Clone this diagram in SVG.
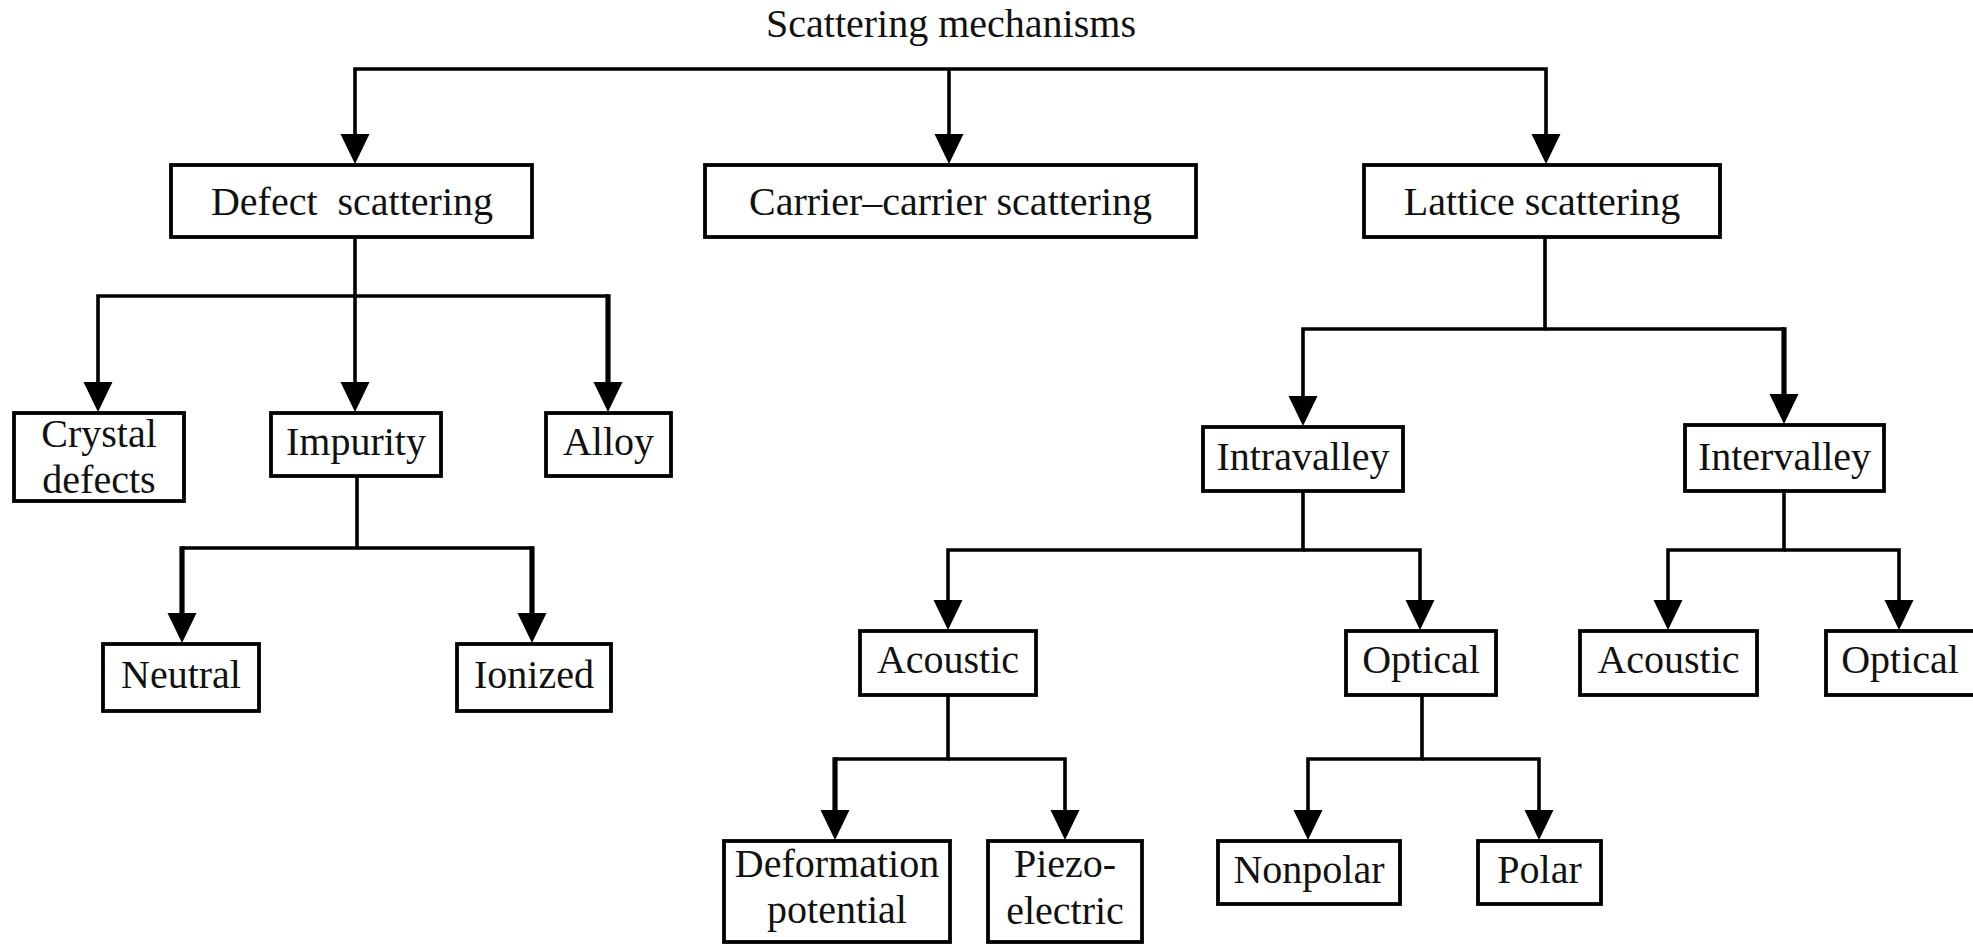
<svg xmlns="http://www.w3.org/2000/svg" width="1973" height="951" viewBox="0 0 1973 951">
<style>
  .box { fill: #fff; stroke: #000; stroke-width: 3.8; }
  .t { font-family: "Liberation Serif", "Times New Roman", serif; font-size: 40px; fill: #111; text-anchor: middle; }
  .c { fill: none; stroke: #000; stroke-width: 3.6; stroke-linejoin: miter; }
  .ct { fill: none; stroke: #000; stroke-width: 5.2; }
</style>
<defs>
  <marker id="ah" markerUnits="userSpaceOnUse" markerWidth="30" markerHeight="30" refX="0" refY="14.5" orient="auto" viewBox="0 0 30 29">
    <path d="M0,0 L30,14.5 L0,29 z" fill="#000"/>
  </marker>
</defs>
<rect width="1973" height="951" fill="#fff"/>

<g id="connectors">
  <path class="c" d="M949,69 H355 V134" marker-end="url(#ah)"/>
  <path class="c" d="M949,69 V134" marker-end="url(#ah)"/>
  <path class="c" d="M949,69 H1546 V134" marker-end="url(#ah)"/>

  <path class="c" d="M355,238 V296 H98 V382" marker-end="url(#ah)"/>
  <path class="c" d="M355,296 V382" marker-end="url(#ah)"/>
  <path class="c" d="M355,296 H608"/>
  <path class="ct" d="M608,294.2 V382" marker-end="url(#ah)"/>

  <path class="c" d="M357,477 V548 H182"/>
  <path class="c" d="M357,548 H532"/>
  <path class="ct" d="M182,546.2 V613" marker-end="url(#ah)"/>
  <path class="ct" d="M532,546.2 V613" marker-end="url(#ah)"/>

  <path class="c" d="M1545,238 V329 H1303 V396" marker-end="url(#ah)"/>
  <path class="c" d="M1545,329 H1784"/>
  <path class="ct" d="M1784,327.2 V394" marker-end="url(#ah)"/>

  <path class="c" d="M1303,492 V550 H948 V600" marker-end="url(#ah)"/>
  <path class="c" d="M1303,550 H1420 V600" marker-end="url(#ah)"/>

  <path class="c" d="M1784,492 V550 H1668 V600" marker-end="url(#ah)"/>
  <path class="c" d="M1784,550 H1899 V600" marker-end="url(#ah)"/>

  <path class="c" d="M948,696 V759 H835"/>
  <path class="ct" d="M835,757.2 V810" marker-end="url(#ah)"/>
  <path class="c" d="M948,759 H1065 V810" marker-end="url(#ah)"/>

  <path class="c" d="M1422,696 V759 H1308 V810" marker-end="url(#ah)"/>
  <path class="c" d="M1422,759 H1539 V810" marker-end="url(#ah)"/>
</g>

<g id="title"><text class="t" x="951" y="37">Scattering mechanisms</text></g>

<g id="defect"><rect class="box" x="171" y="165" width="361" height="72"/><text class="t" x="352" y="215" xml:space="preserve">Defect  scattering</text></g>
<g id="carrier"><rect class="box" x="705" y="165" width="491" height="72"/><text class="t" x="950.5" y="215">Carrier–carrier scattering</text></g>
<g id="lattice"><rect class="box" x="1364" y="165" width="356" height="72"/><text class="t" x="1542" y="215">Lattice scattering</text></g>

<g id="crystal"><rect class="box" x="14" y="413" width="170" height="88"/><text class="t" x="99" y="447">Crystal</text><text class="t" x="99" y="493">defects</text></g>
<g id="impurity"><rect class="box" x="271" y="413" width="170" height="63"/><text class="t" x="356" y="455">Impurity</text></g>
<g id="alloy"><rect class="box" x="546" y="413" width="125" height="63"/><text class="t" x="608.5" y="455">Alloy</text></g>

<g id="neutral"><rect class="box" x="103" y="644" width="156" height="67"/><text class="t" x="181" y="688">Neutral</text></g>
<g id="ionized"><rect class="box" x="457" y="644" width="154" height="67"/><text class="t" x="534" y="688">Ionized</text></g>

<g id="intravalley"><rect class="box" x="1203" y="427" width="200" height="64"/><text class="t" x="1303" y="470">Intravalley</text></g>
<g id="intervalley"><rect class="box" x="1685" y="425" width="199" height="66"/><text class="t" x="1784.5" y="470">Intervalley</text></g>

<g id="acoustic-intra"><rect class="box" x="860" y="631" width="176" height="64"/><text class="t" x="948" y="673">Acoustic</text></g>
<g id="optical-intra"><rect class="box" x="1346" y="631" width="150" height="64"/><text class="t" x="1421" y="673">Optical</text></g>
<g id="acoustic-inter"><rect class="box" x="1580" y="631" width="177" height="64"/><text class="t" x="1668.5" y="673">Acoustic</text></g>
<g id="optical-inter"><rect class="box" x="1826" y="631" width="150" height="64"/><text class="t" x="1900" y="673">Optical</text></g>

<g id="deformation"><rect class="box" x="724" y="841" width="226" height="101"/><text class="t" x="837" y="877">Deformation</text><text class="t" x="837" y="923">potential</text></g>
<g id="piezo"><rect class="box" x="988" y="841" width="154" height="101"/><text class="t" x="1065" y="877">Piezo-</text><text class="t" x="1065" y="924">electric</text></g>
<g id="nonpolar"><rect class="box" x="1218" y="841" width="182" height="63"/><text class="t" x="1309" y="883">Nonpolar</text></g>
<g id="polar"><rect class="box" x="1478" y="841" width="123" height="63"/><text class="t" x="1539.5" y="883">Polar</text></g>
</svg>
